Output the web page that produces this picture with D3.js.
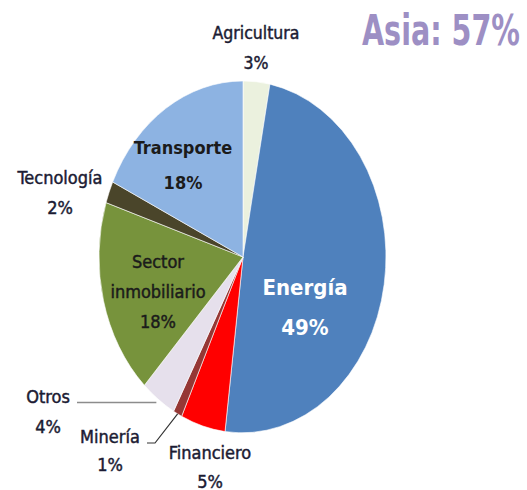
<!DOCTYPE html>
<html>
<head>
<meta charset="utf-8">
<script src="https://cdn.jsdelivr.net/npm/d3@7"></script>
<style>
  body { margin: 0; background: #fff; }
  text { font-family: "DejaVu Sans Condensed", "DejaVu Sans", sans-serif; }
</style>
</head>
<body>
<script>
// data
const sectors = ["Agricultura", "Energía", "Financiero", "Minería", "Otros", "Sector inmobiliario", "Tecnología", "Transporte"];
const shares = [3, 49, 5, 1, 4, 18, 2, 18];
const sectorColors = ["#ebf1de", "#4f81bd", "#ff0000", "#953735", "#e6e0ec", "#77933c", "#4a452a", "#8db3e2"];
const title = "Asia: 57%";

const width = 527, height = 490;
const cx = 243, cy = 257, rx = 144, ry = 176;

const data = sectors.map((s, i) => ({ sector: s, value: shares[i] }));

const svg = d3.select("body").append("svg")
    .attr("width", width)
    .attr("height", height);

const color = d3.scaleOrdinal().domain(sectors).range(sectorColors);

const pie = d3.pie().sort(null).value(d => d.value);
const arcs = pie(data);

// unit arc, stretched into the ellipse via a transform
const arc = d3.arc().innerRadius(0).outerRadius(1);

svg.append("g")
    .attr("transform", `translate(${cx},${cy}) scale(${rx},${ry})`)
    .selectAll("path")
    .data(arcs)
    .enter().append("path")
    .attr("d", arc)
    .attr("fill", d => color(d.data.sector))
    .attr("stroke", "#fff")
    .attr("stroke-width", 0.6)
    .attr("vector-effect", "non-scaling-stroke");

// point on the ellipse edge at the middle of a slice
function edgePoint(d, k) {
    const a = (d.startAngle + d.endAngle) / 2;
    return [cx + rx * k * Math.sin(a), cy - ry * k * Math.cos(a)];
}

// label layout (text positions only)
const labelLayout = {
    "Agricultura":         { x: 256, y: 33, lines: ["Agricultura", "3%"], size: 17.5, lh: 30, fill: "#1b1b33" },
    "Energía":             { x: 305, y: 287, lines: ["Energía", "49%"], size: 22, lh: 40, fill: "#fff", bold: true },
    "Financiero":          { x: 210, y: 453, lines: ["Financiero", "5%"], size: 18, lh: 29, fill: "#1b1b33" },
    "Minería":             { x: 110, y: 437, lines: ["Minería", "1%"], size: 18, lh: 28, fill: "#1b1b33" },
    "Otros":               { x: 48, y: 397, lines: ["Otros", "4%"], size: 18, lh: 30, fill: "#1b1b33" },
    "Sector inmobiliario": { x: 158, y: 262, lines: ["Sector", "inmobiliario", "18%"], size: 18, lh: 30, fill: "#1b1b1b" },
    "Tecnología":          { x: 60, y: 178, lines: ["Tecnología", "2%"], size: 18, lh: 30, fill: "#1b1b33" },
    "Transporte":          { x: 183, y: 148, lines: ["Transporte", "18%"], size: 18, lh: 35, fill: "#1b1b1b", bold: true }
};

arcs.forEach(d => {
    const l = labelLayout[d.data.sector];
    const t = svg.append("text")
        .attr("text-anchor", "middle")
        .attr("font-size", l.size)
        .attr("font-weight", l.bold ? "bold" : "normal")
        .attr("fill", l.fill)
        .attr("stroke", l.bold ? "none" : l.fill)
        .attr("stroke-width", 0.45);
    l.lines.forEach((line, i) => {
        t.append("tspan")
            .attr("x", l.x)
            .attr("y", l.y + i * l.lh)
            .attr("dy", "0.35em")
            .text(line);
    });
});

// leader lines for the two thin slices
const otros = arcs.find(d => d.data.sector === "Otros");
const mineria = arcs.find(d => d.data.sector === "Minería");
const pO = edgePoint(otros, 1);
const pM = edgePoint(mineria, 1);

svg.append("polyline")
    .attr("points", [[77, pO[1] + 3], [pO[0] - 2, pO[1] + 3]].join(" "))
    .attr("fill", "none")
    .attr("stroke", "#8c8c8c")
    .attr("stroke-width", 1.5);

svg.append("polyline")
    .attr("points", [[147, 443], [155, 443], pM].join(" "))
    .attr("fill", "none")
    .attr("stroke", "#333")
    .attr("stroke-width", 1.2);

svg.append("text")
    .attr("x", 441)
    .attr("y", 30)
    .attr("dy", "0.35em")
    .attr("text-anchor", "middle")
    .attr("font-size", 42)
    .attr("font-weight", "bold")
    .attr("textLength", 158)
    .attr("lengthAdjust", "spacingAndGlyphs")
    .attr("fill", "#9d8fc4")
    .text(title);
</script>
</body>
</html>
